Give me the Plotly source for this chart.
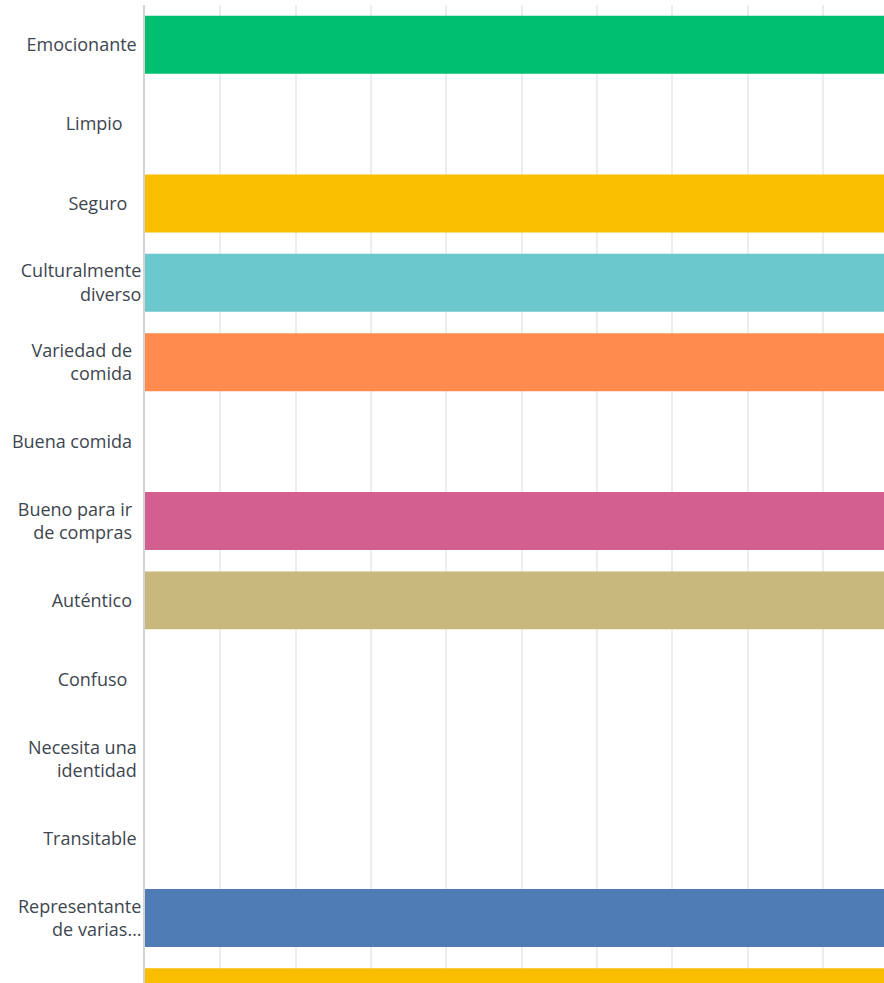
import plotly.graph_objects as go

NB = "\u00a0"

# Survey answers: share of respondents choosing each attribute
categories = [
    "Emocionante" + NB,
    "Limpio" + NB * 4,
    "Seguro" + NB * 3,
    "Culturalmente<br>diverso",
    "Variedad de" + NB * 2 + "<br>comida" + NB * 2,
    "Buena comida" + NB * 2,
    "Bueno para ir" + NB * 2 + "<br>de compras" + NB * 2,
    "Auténtico" + NB * 2,
    "Confuso" + NB * 3,
    "Necesita una" + NB + "<br>identidad" + NB,
    "Transitable" + NB,
    "Representante<br>de varias…",
    "Otro",
]
shares = [1.0, 0.0, 1.0, 1.0, 1.0, 0.0, 1.0, 1.0, 0.0, 0.0, 0.0, 1.0, 1.0]
bar_colors = [
    "#00BF6F", "#507CB6", "#F9BE00", "#6BC8CD", "#FF8B4F", "#7D5E90",
    "#D25F90", "#C9B87B", "#00BF6F", "#507CB6", "#6BC8CD", "#507CB6",
    "#F9BE00",
]

fig = go.Figure(
    go.Bar(
        x=shares,
        y=categories,
        orientation="h",
        marker=dict(color=bar_colors, line=dict(width=0)),
        width=0.73,
        hoverinfo="skip",
    )
)

fig.update_layout(
    width=884,
    height=983,
    margin=dict(l=145, r=0, t=5, b=0),
    paper_bgcolor="white",
    plot_bgcolor="white",
    showlegend=False,
    font=dict(family="Open Sans, Lato, sans-serif", size=18, color="#3d4650"),
)

fig.update_xaxes(
    range=[0, 0.981],
    dtick=0.1,
    showgrid=True,
    gridcolor="#ededed",
    gridwidth=1.5,
    showticklabels=False,
    zeroline=False,
    showline=False,
    fixedrange=True,
)

fig.update_yaxes(
    type="category",
    range=[11.82, -0.5],
    showgrid=False,
    showline=True,
    linecolor="#d3d3d3",
    linewidth=2,
    ticks="",
    ticklabelstandoff=-2,
    zeroline=False,
    fixedrange=True,
)

fig.write_html("out.html")
